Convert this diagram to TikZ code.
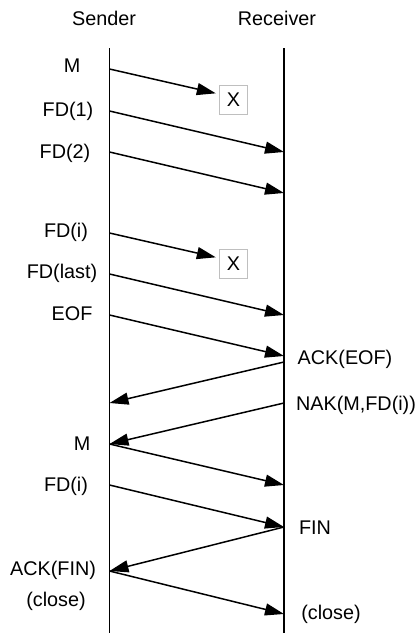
\documentclass[tikz,border=0pt]{standalone}
\usepackage{fontspec}
\setmainfont{Liberation Sans}
\usetikzlibrary{arrows.meta}
\begin{document}
\begin{tikzpicture}[x=1pt,y=-1pt,
  lbl/.style={font=\fontsize{19.8}{23}\selectfont, inner sep=0pt},
  life/.style={line width=1.8pt},
  msg/.style={line width=1.5pt,-{Triangle[length=19pt,width=12pt]}},
  lost/.style={draw=black!25, line width=1.5pt, minimum width=28pt, minimum height=29pt, inner sep=0pt, font=\fontsize{19.8}{23}\selectfont}]
\useasboundingbox (0,0) rectangle (417,633);
% lifelines
\coordinate (stop) at (109.5,48);
\coordinate (sbot) at (109.5,633);
\coordinate (rtop) at (284,48);
\coordinate (rbot) at (284,633);
\draw[life] (stop) -- (sbot);
\draw[life] (rtop) -- (rbot);
\node[lbl] (sender) at (104,18) {Sender};
\node[lbl] (receiver) at (277,18) {Receiver};
% sender-side points
\coordinate (s1) at (109.5,69);
\coordinate (s2) at (109.5,111);
\coordinate (s3) at (109.5,152);
\coordinate (s4) at (109.5,233);
\coordinate (s5) at (109.5,274);
\coordinate (s6) at (109.5,315);
\coordinate (s7) at (109.5,403);
\coordinate (s8) at (109.5,444);
\coordinate (s9) at (109.5,485);
\coordinate (s10) at (109.5,571);
% receiver-side points
\coordinate (r2) at (284,152);
\coordinate (r3) at (284,193);
\coordinate (r5) at (284,315);
\coordinate (r6) at (284,356);
\coordinate (r7) at (284,362);
\coordinate (r8) at (284,403);
\coordinate (r9) at (284,485);
\coordinate (r10) at (284,527);
\coordinate (r11) at (284,614);
% lost boxes
\node[lost] (x1) at (233.5,100) {X};
\node[lost] (x2) at (233.5,264) {X};
% left labels
\node[lbl] (lM) at (72,66) {M};
\node[lbl] (lFD1) at (68,111) {FD(1)};
\node[lbl] (lFD2) at (65,153) {FD(2)};
\node[lbl] (lFDi) at (66,232) {FD(i)};
\node[lbl] (lFDlast) at (62,273) {FD(last)};
\node[lbl] (lEOF) at (72,314) {EOF};
\node[lbl] (lM2) at (82,444) {M};
\node[lbl] (lFDi2) at (66,486) {FD(i)};
\node[lbl] (lACKFIN) at (53,570) {ACK(FIN)};
\node[lbl] (lclose1) at (56,601) {(close)};
% right labels
\node[lbl] (lACKEOF) at (345,359) {ACK(EOF)};
\node[lbl] (lNAK) at (356,405) {NAK(M,FD(i))};
\node[lbl] (lFIN) at (315,528) {FIN};
\node[lbl] (lclose2) at (331,614) {(close)};
% messages
\draw[msg, shorten >=3pt] (s1) -- (x1.west |- 0,94);
\draw[msg] (s2) -- (r2);
\draw[msg] (s3) -- (r3);
\draw[msg, shorten >=3pt] (s4) -- (x2.west |- 0,258);
\draw[msg] (s5) -- (r5);
\draw[msg] (s6) -- (r6);
\draw[msg] (r7) -- (s7);
\draw[msg] (r8) -- (s8);
\draw[msg] (s8) -- (r9);
\draw[msg] (s9) -- (r10);
\draw[msg] (r10) -- (s10);
\draw[msg] (s10) -- (r11);
\end{tikzpicture}
\end{document}
